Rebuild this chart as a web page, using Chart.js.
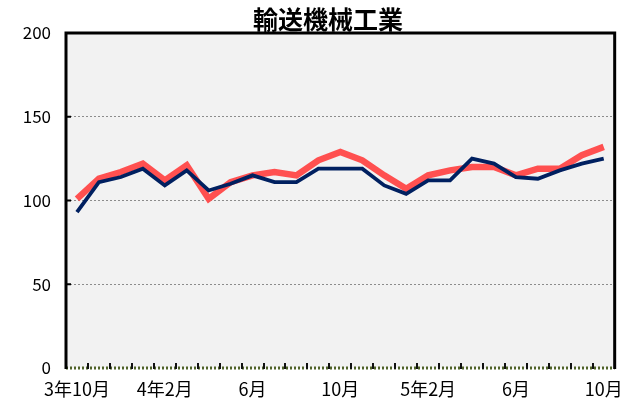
<!DOCTYPE html>
<html>
<head>
<meta charset="utf-8">
<script src="https://cdn.jsdelivr.net/npm/chart.js@4"></script>
<style>
html,body{margin:0;padding:0;background:#fff;}
#wrap{width:633px;height:405px;position:relative;}
</style>
</head>
<body>
<div id="wrap"><canvas id="c" width="633" height="405"></canvas></div>
<script>
const chartTitle = '輸送機械工業';
const categories = ['3年10月','3年11月','3年12月','4年1月','4年2月','4年3月','4年4月','4年5月','4年6月','4年7月','4年8月','4年9月','4年10月','4年11月','4年12月','5年1月','5年2月','5年3月','5年4月','5年5月','5年6月','5年7月','5年8月','5年9月','5年10月'];
const tickLabels = ['3年10月','','','','4年2月','','','','6月','','','','10月','','','','5年2月','','','','6月','','','','10月'];
const seriesNavy = [93,111,114,119,109,118,106,110,115,111,111,119,119,119,109,104,112,112,125,122,114,113,118,122,125];
const seriesRed = [101,113,117,122,112,121,101,111,115,117,115,124,129,124,115,107,115,118,120,120,115,119,119,127,132];
const yTicks = [0,50,100,150,200];

const FONT = "'Noto Sans CJK JP', 'Noto Sans', sans-serif";

const framePlugin = {
  id: 'frame',
  beforeDraw(chart) {
    const {ctx, chartArea: a} = chart;
    ctx.save();
    ctx.fillStyle = '#F2F2F2';
    ctx.fillRect(a.left, a.top, a.right - a.left, a.bottom - a.top);
    ctx.restore();
  },
  afterDraw(chart) {
    const {ctx, chartArea: a} = chart;
    const x = chart.scales.x, y = chart.scales.y;
    ctx.save();
    ctx.strokeStyle = '#4F6228';
    ctx.lineWidth = 3;
    ctx.setLineDash([2, 2]);
    ctx.beginPath();
    ctx.moveTo(a.left, a.bottom);
    ctx.lineTo(a.right, a.bottom);
    ctx.stroke();
    ctx.setLineDash([]);
    ctx.strokeStyle = '#111';
    ctx.lineWidth = 2;
    const n = categories.length;
    for (let i = 0; i < n - 1; i++) {
      const px = Math.round((x.getPixelForValue(i) + x.getPixelForValue(i + 1)) / 2);
      ctx.beginPath();
      ctx.moveTo(px, a.bottom + 1);
      ctx.lineTo(px, a.bottom - 5);
      ctx.stroke();
    }
    ctx.lineWidth = 2;
    ctx.strokeStyle = '#000';
    yTicks.forEach(v => {
      if (v === 0 || v === 200) return;
      const py = y.getPixelForValue(v);
      ctx.beginPath();
      ctx.moveTo(a.left, py);
      ctx.lineTo(a.left + 5, py);
      ctx.stroke();
    });
    ctx.strokeStyle = '#000';
    ctx.lineWidth = 3;
    ctx.lineJoin = 'miter';
    ctx.beginPath();
    ctx.moveTo(a.left, a.bottom + 1);
    ctx.lineTo(a.left, a.top);
    ctx.lineTo(a.right, a.top);
    ctx.lineTo(a.right, a.bottom + 1);
    ctx.stroke();
    ctx.fillStyle = '#000';
    ctx.font = "bold 25px " + FONT;
    ctx.textAlign = 'center';
    ctx.textBaseline = 'alphabetic';
    ctx.fillText(chartTitle, 328, 29);
    ctx.restore();
  }
};

new Chart(document.getElementById('c'), {
  type: 'line',
  data: {
    labels: categories,
    datasets: [
      {label: '系列1', data: seriesNavy, borderColor: '#002060', borderWidth: 3.8, pointRadius: 0, tension: 0, fill: false},
      {label: '系列2', data: seriesRed, borderColor: '#FF5050', borderWidth: 6.5, pointRadius: 0, tension: 0, fill: false}
    ]
  },
  options: {
    responsive: false,
    animation: false,
    layout: {padding: {left: 0, right: 15, top: 33, bottom: 0}},
    plugins: {legend: {display: false}, title: {display: false}, tooltip: {enabled: false}},
    scales: {
      x: {
        offset: true,
        grid: {display: false, drawTicks: false},
        border: {display: false},
        afterFit(s) { s.height = 37; },
        ticks: {
          autoSkip: false, maxRotation: 0, minRotation: 0, padding: 10,
          color: '#000', font: {family: FONT, size: 18},
          callback: (v, i) => tickLabels[i]
        }
      },
      y: {
        min: 0, max: 200,
        afterFit(s) { s.width = 66; },
        afterBuildTicks(s) { s.ticks = yTicks.map(v => ({value: v})); },
        grid: {
          drawTicks: false,
          color: c => (c.tick && (c.tick.value === 0 || c.tick.value === 200)) ? 'rgba(0,0,0,0)' : '#8c8c8c',
          lineWidth: 1
        },
        border: {display: false, dash: [2, 2]},
        ticks: {padding: 15, color: '#000', font: {family: FONT, size: 17}}
      }
    }
  },
  plugins: [framePlugin]
});
</script>
</body>
</html>
